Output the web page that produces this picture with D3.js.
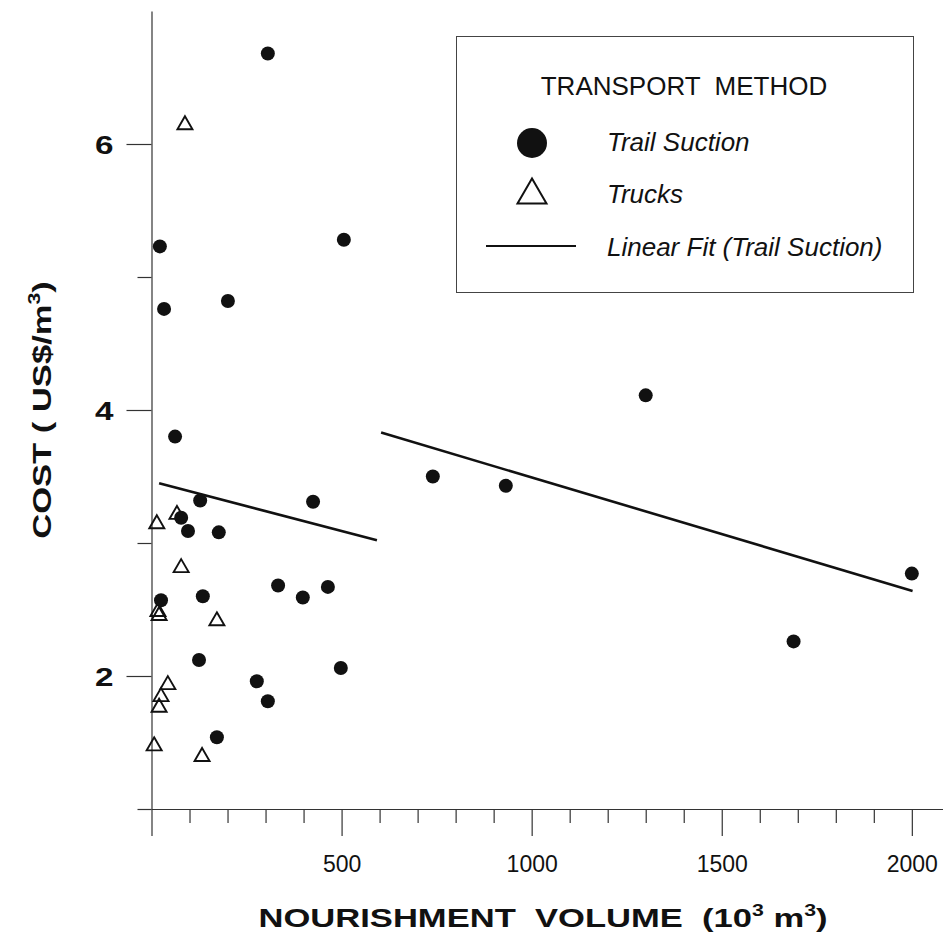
<!DOCTYPE html>
<html>
<head>
<meta charset="utf-8">
<script src="https://cdn.jsdelivr.net/npm/d3@7"></script>
<style>
  body { margin: 0; background: #fff; }
  svg text { font-family: "Liberation Sans", Arial, sans-serif; fill: #111; }
</style>
</head>
<body>
<div id="chart"></div>
<script>
// Trail suction projects: volume (10^3 m3) and cost (US$/m3)
const suctionVolume = [306, 22, 33, 201, 506, 62, 1300, 740, 932, 128, 425, 78, 96, 177,
                       25, 135, 333, 398, 464, 125, 277, 306, 498, 172, 1689, 2000];
const suctionCost   = [6.68, 5.23, 4.76, 4.82, 5.28, 3.80, 4.11, 3.50, 3.43, 3.32, 3.31, 3.19, 3.09, 3.08,
                       2.57, 2.60, 2.68, 2.59, 2.67, 2.12, 1.96, 1.81, 2.06, 1.54, 2.26, 2.77];

// Truck projects
const truckVolume = [88, 14, 67, 78, 17, 20, 172, 43, 25, 20, 7, 133];
const truckCost   = [6.16, 3.16, 3.23, 2.83, 2.50, 2.47, 2.43, 1.95, 1.86, 1.78, 1.49, 1.41];

// Linear fit (trail suction), two segments as drawn
const fitStartVolume = [20, 604];
const fitStartCost   = [3.45, 3.83];
const fitEndVolume   = [593, 2002];
const fitEndCost     = [3.02, 2.64];

const xMajorTicks = [0, 500, 1000, 1500, 2000];
const xMinorTicks = d3.range(100, 2100, 100).filter(v => v % 500 !== 0);
const yMajorTicks = [2, 4, 6];
const yMinorTicks = [1, 3, 5];

const width = 943, height = 950;
const stretch = 1.33; // bold labels in the original are set wide

const svg = d3.select("#chart").append("svg")
    .attr("width", width)
    .attr("height", height);

const x = d3.scaleLinear().domain([0, 2082]).range([151.5, 943]);
const y = d3.scaleLinear().domain([1, 7]).range([809, 11]);

const axisColor = "#333";

// X axis
const xAxisG = svg.append("g")
    .attr("transform", `translate(0, ${y(1)})`)
    .call(d3.axisBottom(x).tickValues(xMajorTicks).tickSize(27).tickSizeOuter(0)
        .tickFormat(d => d === 0 ? "" : d3.format("d")(d)));
xAxisG.append("g")
    .call(d3.axisBottom(x).tickValues(xMinorTicks).tickSize(14).tickSizeOuter(0).tickFormat(""))
    .select(".domain").remove();
xAxisG.selectAll("text")
    .attr("y", 63)
    .attr("dy", 0)
    .style("font-size", "23px");

// Y axis
const yAxisG = svg.append("g")
    .attr("transform", `translate(${x(0)}, 0)`)
    .call(d3.axisLeft(y).tickValues(yMajorTicks).tickSize(25).tickSizeOuter(0)
        .tickFormat(d3.format("d")));
yAxisG.append("g")
    .call(d3.axisLeft(y).tickValues(yMinorTicks).tickSize(14).tickSizeOuter(0).tickFormat(""))
    .select(".domain").remove();
yAxisG.selectAll("text")
    .attr("x", 0)
    .attr("dy", "0.36em")
    .attr("text-anchor", "end")
    .attr("transform", `translate(-38, 0) scale(${stretch}, 1)`)
    .style("font-size", "25px")
    .style("font-weight", "bold");

svg.selectAll(".domain, .tick line")
    .attr("stroke", axisColor)
    .attr("stroke-width", 1.2);
svg.selectAll(".tick text").attr("fill", "#111");

// Fit lines
svg.selectAll("line.fit")
    .data(d3.range(fitStartVolume.length))
    .enter()
    .append("line")
    .attr("class", "fit")
    .attr("x1", i => x(fitStartVolume[i]))
    .attr("y1", i => y(fitStartCost[i]))
    .attr("x2", i => x(fitEndVolume[i]))
    .attr("y2", i => y(fitEndCost[i]))
    .attr("stroke", "#111")
    .attr("stroke-width", 2.6);

// Trail suction points
svg.selectAll("circle.suction")
    .data(d3.range(suctionVolume.length))
    .enter()
    .append("circle")
    .attr("class", "suction")
    .attr("cx", i => x(suctionVolume[i]))
    .attr("cy", i => y(suctionCost[i]))
    .attr("r", 7)
    .attr("fill", "#111");

// Triangle centred on its bounding box
const triangle = (s, h) => `M0,${-h / 2}L${s / 2},${h / 2}L${-s / 2},${h / 2}Z`;

svg.selectAll("path.truck")
    .data(d3.range(truckVolume.length))
    .enter()
    .append("path")
    .attr("class", "truck")
    .attr("transform", i => `translate(${x(truckVolume[i])}, ${y(truckCost[i])})`)
    .attr("d", triangle(15, 13))
    .attr("fill", "none")
    .attr("stroke", "#111")
    .attr("stroke-width", 1.9);

// Axis titles
svg.append("text")
    .attr("transform", `translate(543, 927) scale(${stretch}, 1)`)
    .attr("text-anchor", "middle")
    .style("font-size", "26px")
    .style("font-weight", "bold")
    .style("white-space", "pre")
    .call(t => {
        t.append("tspan").text("NOURISHMENT  VOLUME  (10");
        t.append("tspan").attr("dy", -11).style("font-size", "16px").text("3");
        t.append("tspan").attr("dy", 11).text(" m");
        t.append("tspan").attr("dy", -11).style("font-size", "16px").text("3");
        t.append("tspan").attr("dy", 11).text(")");
    });

svg.append("text")
    .attr("transform", `translate(51, 410) rotate(-90) scale(${stretch}, 1)`)
    .attr("text-anchor", "middle")
    .style("font-size", "26px")
    .style("font-weight", "bold")
    .style("white-space", "pre")
    .call(t => {
        t.append("tspan").text("COST ( US$/m");
        t.append("tspan").attr("dy", -11).style("font-size", "16px").text("3");
        t.append("tspan").attr("dy", 11).text(")");
    });

// Legend
const legend = svg.append("g");
legend.append("rect")
    .attr("x", 456.5).attr("y", 36.5)
    .attr("width", 457).attr("height", 256)
    .attr("fill", "#fff")
    .attr("stroke", "#444")
    .attr("stroke-width", 1);
legend.append("text")
    .attr("x", 684).attr("y", 95)
    .attr("text-anchor", "middle")
    .style("font-size", "26px")
    .style("white-space", "pre")
    .text("TRANSPORT  METHOD");
legend.append("circle")
    .attr("cx", 532).attr("cy", 143).attr("r", 15)
    .attr("fill", "#111");
legend.append("path")
    .attr("transform", "translate(532, 191)")
    .attr("d", triangle(29, 25))
    .attr("fill", "none")
    .attr("stroke", "#111")
    .attr("stroke-width", 2);
legend.append("line")
    .attr("x1", 486).attr("x2", 576)
    .attr("y1", 246).attr("y2", 246)
    .attr("stroke", "#111")
    .attr("stroke-width", 2);
const legendLabels = ["Trail Suction", "Trucks", "Linear Fit (Trail Suction)"];
legend.selectAll("text.item")
    .data(legendLabels)
    .enter()
    .append("text")
    .attr("class", "item")
    .attr("x", 607)
    .attr("y", (d, i) => [151, 203, 256][i])
    .style("font-size", "26px")
    .style("font-style", "italic")
    .text(d => d);
</script>
</body>
</html>
